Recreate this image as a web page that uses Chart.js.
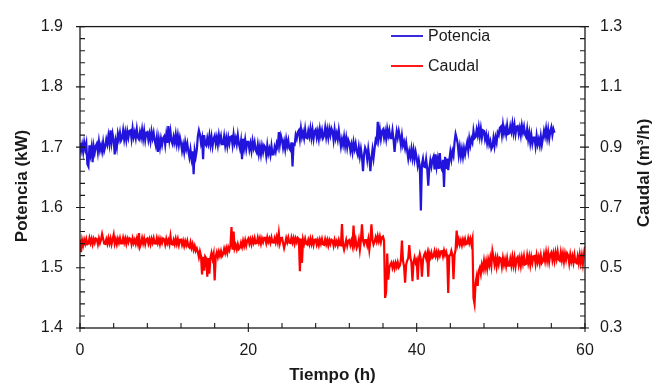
<!DOCTYPE html>
<html>
<head>
<meta charset="utf-8">
<script src="https://cdn.jsdelivr.net/npm/chart.js@4/dist/chart.umd.min.js"></script>
<style>
  html, body { margin: 0; padding: 0; background: #fff; }
  canvas { display: block; }
</style>
</head>
<body>
<canvas id="chart" width="659" height="386"></canvas>
<script>
// sampling interval of the logged series (hours), 8 readings per hour
var stepH = 0.125;

// Potencia (kW), one row per hour starting at t = 0 h
var potencia = [
  1.707,1.694,1.704,1.692,1.708,1.697,1.706,1.672,
  1.668,1.703,1.688,1.700,1.675,1.701,1.691,1.702,
  1.706,1.692,1.709,1.695,1.703,1.693,1.708,1.694,
  1.701,1.713,1.705,1.719,1.706,1.728,1.708,1.722,
  1.712,1.688,1.710,1.700,1.722,1.713,1.724,1.711,
  1.715,1.728,1.713,1.725,1.712,1.726,1.716,1.727,
  1.728,1.714,1.731,1.717,1.725,1.715,1.730,1.716,
  1.713,1.725,1.716,1.729,1.714,1.727,1.712,1.724,
  1.725,1.712,1.722,1.710,1.726,1.715,1.724,1.711,
  1.703,1.716,1.692,1.713,1.700,1.714,1.704,1.715,
  1.718,1.704,1.721,1.707,1.735,1.713,1.726,1.710,
  1.705,1.717,1.708,1.721,1.706,1.719,1.704,1.716,
  1.707,1.694,1.704,1.692,1.708,1.697,1.706,1.693,
  1.683,1.696,1.681,1.693,1.655,1.694,1.684,1.695,
  1.718,1.728,1.721,1.707,1.715,1.680,1.720,1.706,
  1.703,1.715,1.706,1.719,1.704,1.717,1.702,1.714,
  1.719,1.706,1.716,1.704,1.720,1.709,1.718,1.705,
  1.705,1.718,1.703,1.715,1.702,1.716,1.706,1.717,
  1.718,1.704,1.721,1.707,1.715,1.705,1.720,1.706,
  1.698,1.710,1.680,1.714,1.699,1.712,1.697,1.709,
  1.709,1.696,1.706,1.694,1.710,1.699,1.708,1.695,
  1.691,1.704,1.689,1.701,1.688,1.702,1.692,1.703,
  1.700,1.686,1.703,1.689,1.697,1.687,1.702,1.688,
  1.688,1.700,1.693,1.706,1.700,1.725,1.705,1.719,
  1.712,1.699,1.709,1.697,1.713,1.702,1.711,1.698,
  1.695,1.708,1.668,1.705,1.704,1.720,1.714,1.725,
  1.728,1.714,1.731,1.717,1.725,1.715,1.730,1.716,
  1.715,1.727,1.718,1.731,1.716,1.729,1.714,1.726,
  1.729,1.716,1.726,1.714,1.730,1.719,1.728,1.715,
  1.719,1.732,1.717,1.729,1.716,1.730,1.720,1.731,
  1.726,1.712,1.729,1.715,1.723,1.713,1.728,1.714,
  1.701,1.713,1.704,1.717,1.702,1.715,1.700,1.712,
  1.707,1.694,1.704,1.692,1.708,1.697,1.706,1.693,
  1.687,1.700,1.685,1.697,1.684,1.660,1.688,1.699,
  1.694,1.680,1.697,1.683,1.660,1.681,1.696,1.682,
  1.698,1.712,1.708,1.742,1.716,1.729,1.714,1.726,
  1.729,1.716,1.726,1.714,1.730,1.719,1.728,1.715,
  1.715,1.728,1.713,1.692,1.712,1.726,1.716,1.727,
  1.718,1.704,1.719,1.703,1.709,1.698,1.708,1.694,
  1.681,1.693,1.684,1.697,1.682,1.695,1.680,1.692,
  1.682,1.669,1.679,1.667,1.595,1.672,1.681,1.668,
  1.667,1.680,1.665,1.636,1.664,1.678,1.668,1.679,
  1.684,1.663,1.688,1.668,1.680,1.664,1.690,1.667,
  1.663,1.679,1.634,1.684,1.664,1.681,1.662,1.678,
  1.692,1.680,1.693,1.686,1.708,1.722,1.715,1.706,
  1.687,1.700,1.685,1.697,1.684,1.698,1.688,1.699,
  1.708,1.695,1.714,1.703,1.714,1.708,1.727,1.715,
  1.717,1.729,1.720,1.733,1.718,1.731,1.716,1.728,
  1.727,1.713,1.721,1.707,1.717,1.704,1.710,1.697,
  1.701,1.715,1.702,1.716,1.708,1.724,1.720,1.732,
  1.734,1.720,1.737,1.723,1.731,1.721,1.736,1.722,
  1.723,1.735,1.726,1.739,1.724,1.737,1.722,1.734,
  1.735,1.722,1.732,1.720,1.736,1.725,1.734,1.721,
  1.717,1.730,1.713,1.724,1.707,1.720,1.706,1.716,
  1.716,1.702,1.719,1.705,1.713,1.703,1.718,1.704,
  1.715,1.727,1.718,1.731,1.716,1.729,1.714,1.726,
  1.733,1.720,1.730,1.724
];

// Caudal (m3/h), one row per hour starting at t = 0 h
var caudal = [
  0.594,0.552,0.591,0.575,0.593,0.580,0.595,0.578,
  0.580,0.598,0.582,0.596,0.578,0.595,0.583,0.597,
  0.595,0.578,0.597,0.582,0.593,0.612,0.596,0.580,
  0.579,0.594,0.580,0.598,0.581,0.597,0.578,0.594,
  0.610,0.580,0.594,0.578,0.596,0.583,0.598,0.581,
  0.581,0.599,0.583,0.597,0.579,0.596,0.584,0.598,
  0.595,0.578,0.597,0.582,0.593,0.579,0.596,0.580,
  0.615,0.570,0.580,0.598,0.581,0.597,0.578,0.594,
  0.597,0.580,0.594,0.578,0.596,0.583,0.598,0.581,
  0.580,0.598,0.582,0.596,0.578,0.595,0.583,0.597,
  0.594,0.577,0.596,0.581,0.592,0.578,0.605,0.579,
  0.577,0.592,0.578,0.596,0.579,0.595,0.576,0.592,
  0.593,0.576,0.589,0.572,0.588,0.575,0.589,0.571,
  0.567,0.584,0.566,0.579,0.560,0.572,0.556,0.564,
  0.552,0.535,0.554,0.539,0.478,0.536,0.490,0.537,
  0.531,0.470,0.532,0.480,0.533,0.549,0.530,0.546,
  0.458,0.537,0.551,0.535,0.553,0.540,0.555,0.538,
  0.545,0.563,0.549,0.565,0.549,0.568,0.558,0.574,
  0.635,0.560,0.620,0.564,0.575,0.561,0.578,0.562,
  0.566,0.582,0.569,0.589,0.573,0.591,0.574,0.591,
  0.597,0.580,0.594,0.578,0.596,0.583,0.598,0.581,
  0.582,0.600,0.584,0.598,0.580,0.597,0.585,0.599,
  0.599,0.582,0.601,0.586,0.597,0.583,0.600,0.584,
  0.583,0.598,0.584,0.602,0.585,0.615,0.582,0.598,
  0.599,0.582,0.565,0.580,0.598,0.585,0.600,0.583,
  0.582,0.600,0.584,0.598,0.580,0.597,0.585,0.599,
  0.595,0.488,0.597,0.516,0.593,0.579,0.596,0.580,
  0.577,0.592,0.578,0.596,0.579,0.595,0.576,0.592,
  0.594,0.577,0.591,0.575,0.593,0.580,0.595,0.578,
  0.576,0.594,0.578,0.592,0.574,0.591,0.579,0.593,
  0.590,0.573,0.592,0.577,0.588,0.574,0.591,0.575,
  0.574,0.645,0.575,0.560,0.576,0.592,0.573,0.589,
  0.592,0.575,0.589,0.573,0.640,0.578,0.593,0.566,
  0.575,0.593,0.560,0.591,0.644,0.590,0.578,0.592,
  0.592,0.575,0.594,0.560,0.590,0.644,0.593,0.577,
  0.586,0.601,0.587,0.605,0.588,0.604,0.585,0.601,
  0.604,0.590,0.400,0.420,0.547,0.460,0.500,0.510,
  0.517,0.500,0.514,0.498,0.516,0.503,0.518,0.501,
  0.507,0.525,0.590,0.523,0.505,0.450,0.510,0.524,
  0.532,0.575,0.534,0.519,0.455,0.516,0.533,0.517,
  0.526,0.460,0.527,0.545,0.528,0.470,0.525,0.541,
  0.549,0.532,0.546,0.470,0.548,0.535,0.550,0.533,
  0.537,0.555,0.539,0.553,0.535,0.552,0.540,0.554,
  0.555,0.538,0.557,0.542,0.553,0.539,0.416,0.540,
  0.541,0.556,0.542,0.462,0.543,0.559,0.623,0.580,
  0.594,0.577,0.591,0.575,0.593,0.580,0.595,0.578,
  0.580,0.598,0.582,0.596,0.578,0.595,0.400,0.380,
  0.450,0.470,0.440,0.490,0.500,0.480,0.510,0.495,
  0.523,0.498,0.521,0.497,0.527,0.509,0.533,0.508,
  0.555,0.535,0.511,0.532,0.505,0.531,0.512,0.533,
  0.530,0.504,0.532,0.510,0.527,0.506,0.531,0.507,
  0.507,0.529,0.508,0.535,0.509,0.533,0.505,0.529,
  0.535,0.510,0.531,0.507,0.534,0.514,0.537,0.511,
  0.513,0.540,0.516,0.537,0.510,0.536,0.517,0.538,
  0.539,0.513,0.541,0.519,0.536,0.515,0.540,0.516,
  0.522,0.544,0.523,0.550,0.524,0.548,0.520,0.544,
  0.551,0.526,0.547,0.523,0.550,0.530,0.553,0.527,
  0.523,0.550,0.526,0.547,0.520,0.546,0.527,0.548,
  0.541,0.515,0.543,0.521,0.538,0.517,0.542,0.518,
  0.515,0.537,0.516,0.543,0.517,0.541,0.513,0.545,
  0.570
];

var seriesNames = ['Potencia', 'Caudal'];
var seriesColors = ['#2214dc', '#ff0000'];

var FONT = "'Liberation Sans', Arial, sans-serif";
var INK = '#1a1a1a';

function toPoints(values) {
  return values.map(function(v, i) { return { x: i * stepH, y: v }; });
}

// frame, inward ticks, legend and axis titles, drawn over the plot
var framePlugin = {
  id: 'frame',
  afterDatasetsDraw: function(chart) {
    var ctx = chart.ctx;
    var a = chart.chartArea;
    var sx = chart.scales.x, sy = chart.scales.y, sy1 = chart.scales.y1;
    ctx.save();
    ctx.strokeStyle = INK;
    ctx.lineWidth = 1.3;
    ctx.strokeRect(a.left, a.top, a.right - a.left, a.bottom - a.top);

    ctx.lineWidth = 1.1;
    ctx.beginPath();
    var v, p, major;
    for (v = 0; v <= 60; v += 4) {
      p = sx.getPixelForValue(v);
      major = v % 20 === 0;
      ctx.moveTo(p, a.bottom + (major ? 4 : 0));
      ctx.lineTo(p, a.bottom - 5);
    }
    for (var i = 0; i <= 25; i++) {
      v = 1.4 + i * 0.02;
      p = sy.getPixelForValue(v);
      major = i % 5 === 0;
      ctx.moveTo(a.left - (major ? 4 : 0), p);
      ctx.lineTo(a.left + 5, p);
    }
    for (i = 0; i <= 25; i++) {
      v = 0.3 + i * 0.04;
      p = sy1.getPixelForValue(v);
      major = i % 5 === 0;
      ctx.moveTo(a.right + (major ? 4 : 0), p);
      ctx.lineTo(a.right - 5, p);
    }
    ctx.stroke();

    // legend
    ctx.font = '16px ' + FONT;
    ctx.textBaseline = 'middle';
    ctx.textAlign = 'left';
    chart.data.datasets.forEach(function(ds, k) {
      var ly = 36 + k * 30;
      ctx.strokeStyle = ds.borderColor;
      ctx.lineWidth = 1.8;
      ctx.beginPath();
      ctx.moveTo(391, ly);
      ctx.lineTo(423, ly);
      ctx.stroke();
      ctx.fillStyle = INK;
      ctx.fillText(ds.label, 428, ly + 1);
    });

    // axis titles
    ctx.font = 'bold 17px ' + FONT;
    ctx.fillStyle = INK;
    ctx.textAlign = 'center';
    ctx.fillText('Tiempo (h)', (a.left + a.right) / 2, 375);

    ctx.save();
    ctx.translate(22, 186);
    ctx.rotate(-Math.PI / 2);
    ctx.fillText('Potencia (kW)', 0, 0);
    ctx.restore();

    ctx.save();
    ctx.translate(644, 173);
    ctx.rotate(-Math.PI / 2);
    ctx.fillText('Caudal (m\u00B3/h)', 0, 0);
    ctx.restore();

    ctx.restore();
  }
};

var tickFont = { family: FONT, size: 16 };

new Chart(document.getElementById('chart').getContext('2d'), {
  type: 'line',
  data: {
    datasets: [
      {
        label: seriesNames[0],
        data: toPoints(potencia),
        yAxisID: 'y',
        borderColor: seriesColors[0],
        borderWidth: 2.2,
        pointRadius: 0,
        tension: 0,
        fill: false
      },
      {
        label: seriesNames[1],
        data: toPoints(caudal),
        yAxisID: 'y1',
        borderColor: seriesColors[1],
        borderWidth: 2.2,
        pointRadius: 0,
        tension: 0,
        fill: false
      }
    ]
  },
  options: {
    responsive: false,
    animation: false,
    layout: { padding: { top: 18, left: 0, right: 0, bottom: 0 } },
    plugins: {
      legend: { display: false },
      tooltip: { enabled: false }
    },
    scales: {
      x: {
        type: 'linear',
        min: 0,
        max: 60,
        grid: { display: false, drawTicks: false },
        border: { display: false },
        ticks: { stepSize: 20, font: tickFont, color: INK, padding: 13, maxRotation: 0 },
        afterFit: function(s) { s.height = 58; }
      },
      y: {
        position: 'left',
        min: 1.4,
        max: 1.9,
        grid: { display: false, drawTicks: false },
        border: { display: false },
        ticks: {
          stepSize: 0.1, font: tickFont, color: INK, padding: 17,
          callback: function(v) { return v.toFixed(1); }
        },
        afterFit: function(s) { s.width = 80; }
      },
      y1: {
        position: 'right',
        min: 0.3,
        max: 1.3,
        grid: { display: false, drawTicks: false },
        border: { display: false },
        ticks: {
          stepSize: 0.2, font: tickFont, color: INK, padding: 15,
          callback: function(v) { return v.toFixed(1); }
        },
        afterFit: function(s) { s.width = 74; }
      }
    }
  },
  plugins: [framePlugin]
});
</script>
</body>
</html>
